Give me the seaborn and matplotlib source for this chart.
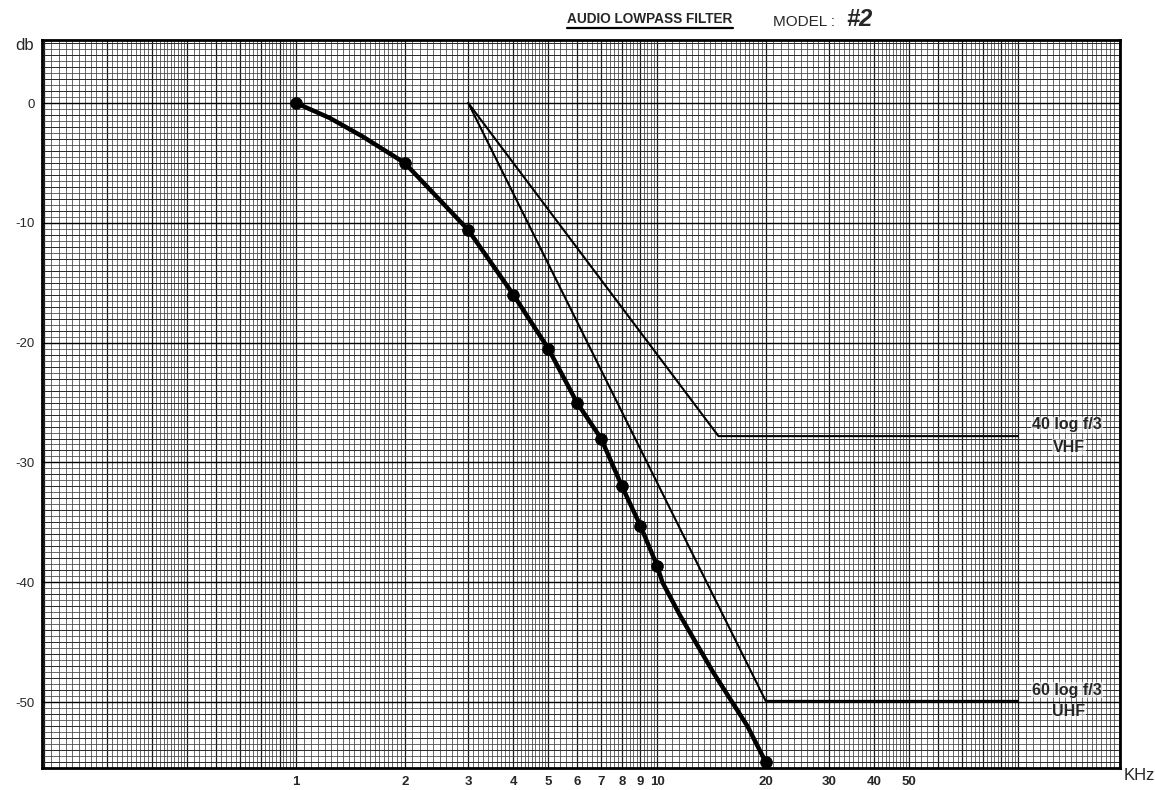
import numpy as np
import pandas as pd
import matplotlib
matplotlib.use("Agg")
import matplotlib.pyplot as plt
from matplotlib.lines import Line2D
from matplotlib.ticker import FixedLocator, FixedFormatter, NullFormatter
from matplotlib import font_manager
import seaborn as sns

# ---------------- data ----------------
point_khz = [1, 2, 3, 4, 5, 6, 7, 8, 9, 10, 20]
point_db = [0.0, -5.0, -10.6, -16.0, -20.5, -25.0, -28.0, -32.0, -35.3, -38.6, -55.0]

trace_khz = [1, 1.24, 1.53, 2, 3, 4, 5, 6, 7, 8, 9, 10, 10.35, 11.6, 14.3, 17.8, 20.0]
trace_db = [0.0, -1.25, -2.8, -5.0, -10.6, -16.0, -20.5, -25.0, -28.0, -32.0, -35.3,
            -38.6, -40.0, -42.8, -47.5, -52.0, -55.0]

vhf_khz = [3, 14.8, 100]
vhf_db = [0.0, -27.8, -27.8]

uhf_khz = [3, 20, 100]
uhf_db = [0.0, -49.9, -49.9]

x_tick_values = [1, 2, 3, 4, 5, 6, 7, 8, 9, 10, 20, 30, 40, 50]
x_tick_labels = ["1", "2", "3", "4", "5", "6", "7", "8", "9", "10", "20", "30", "40", "50"]
y_tick_values = [0, -10, -20, -30, -40, -50]
y_tick_labels = ["0", "-10", "-20", "-30", "-40", "-50"]

title_text = "AUDIO LOWPASS FILTER"
model_text = "MODEL :"
model_no = "#2"
vhf_label = ["40 log f/3", "VHF"]
uhf_label = ["60 log f/3", "UHF"]

# ---------------- style ----------------
sns.set_theme(style="white")
plt.rcParams["font.family"] = ["Liberation Sans", "DejaVu Sans"]
installed = {f.name for f in font_manager.fontManager.ttflist}
narrow = "Liberation Sans Narrow" if "Liberation Sans Narrow" in installed else "Liberation Sans"
title_size = 11.5 if narrow == "Liberation Sans Narrow" else 9.8

W, H = 1155, 790
fig = plt.figure(figsize=(W / 100, H / 100), dpi=100)
fig.patch.set_facecolor("white")
L, R, T, B = 42, 1120, 40, 768
ax = fig.add_axes([L / W, (H - B) / H, (R - L) / W, (B - T) / H])
ax.set_facecolor("white")

ax.set_xscale("log")
ax.set_xlim(0.1978, 191.7)
ax.set_ylim(-55.5, 5.26)

# ---------------- graph-paper grid ----------------
xmin, xmax = ax.get_xlim()
vlines = []
for d in [0.1, 1, 10, 100]:
    vals = [d * (1 + 0.05 * i) for i in range(20)]
    vals += [d * (2 + 0.1 * i) for i in range(30)]
    vals += [d * (5 + 0.2 * i) for i in range(25)]
    vlines += [v for v in vals if xmin < v < xmax]
int_lines = [d * k for d in [0.1, 1, 10, 100] for k in range(1, 10) if xmin < d * k < xmax]

xt = ax.get_xaxis_transform()
yt = ax.get_yaxis_transform()
ax.vlines(vlines, 0, 1, transform=xt, colors="#404040", lw=0.55, zorder=0)
ax.vlines(int_lines, 0, 1, transform=xt, colors="#1a1a1a", lw=0.9, zorder=0)

h_half = [-55.5 + 0.5 * i for i in range(122) if -55.5 + 0.5 * i < 5.26]
h_one = [float(v) for v in range(-55, 6)]
h_ten = [float(v) for v in range(-50, 6, 10)]
ax.hlines(h_half, 0, 1, transform=yt, colors="#404040", lw=0.55, zorder=0)
ax.hlines(h_one, 0, 1, transform=yt, colors="#2a2a2a", lw=0.7, zorder=0)
ax.hlines(h_ten, 0, 1, transform=yt, colors="#000000", lw=1.0, zorder=0)

# ---------------- data marks ----------------
trace_df = pd.DataFrame({"khz": trace_khz, "db": trace_db})
pts_df = pd.DataFrame({"khz": point_khz, "db": point_db})
vhf_df = pd.DataFrame({"khz": vhf_khz, "db": vhf_db})
uhf_df = pd.DataFrame({"khz": uhf_khz, "db": uhf_db})

sns.lineplot(data=vhf_df, x="khz", y="db", ax=ax, color="black", lw=1.5,
             sort=False, estimator=None, zorder=3)
sns.lineplot(data=uhf_df, x="khz", y="db", ax=ax, color="black", lw=1.5,
             sort=False, estimator=None, zorder=3)
sns.lineplot(data=trace_df, x="khz", y="db", ax=ax, color="black", lw=3.2,
             sort=False, estimator=None, zorder=4)
sns.scatterplot(data=pts_df, x="khz", y="db", ax=ax, color="black", s=70,
                edgecolor="black", zorder=5, legend=False)

# ---------------- axes / ticks ----------------
ax.set_xlabel("")
ax.set_ylabel("")
ax.xaxis.set_major_locator(FixedLocator(x_tick_values))
ax.xaxis.set_major_formatter(FixedFormatter(x_tick_labels))
ax.xaxis.set_minor_locator(FixedLocator([]))
ax.xaxis.set_minor_formatter(NullFormatter())
ax.yaxis.set_major_locator(FixedLocator(y_tick_values))
ax.yaxis.set_major_formatter(FixedFormatter(y_tick_labels))
ax.tick_params(axis="x", length=0, pad=6, labelsize=9.5)
ax.tick_params(axis="y", length=0, pad=5, labelsize=9.5)
for lab in ax.get_xticklabels():
    lab.set_fontweight("bold")
ax.grid(False)
for sp in ax.spines.values():
    sp.set_visible(True)
    sp.set_color("black")
    sp.set_linewidth(2.0)

# annotation labels (figure pixel positions)
def fig_text(x, y, s, **kw):
    return fig.text(x / W, 1 - y / H, s, **kw)

lab_kw = dict(ha="center", va="center", fontsize=11.5, fontweight="bold", zorder=6,
              bbox=dict(facecolor="white", edgecolor="none", alpha=0.55, pad=0.5))
fig_text(1067, 425, vhf_label[0], **lab_kw)
fig_text(1069, 447, vhf_label[1], **lab_kw)
fig_text(1067, 690, uhf_label[0], **lab_kw)
fig_text(1069, 712, uhf_label[1], **lab_kw)

fig_text(15, 45, "db", ha="left", va="center", fontsize=12)
fig_text(1124, 776, "KHz", ha="left", va="center", fontsize=12)

title = fig_text(650, 19, title_text, ha="center", va="center",
                 fontsize=title_size, fontweight="bold", family=[narrow, "DejaVu Sans"])
fig_text(773, 22, model_text, ha="left", va="center", fontsize=11)
fig_text(846, 20, model_no, ha="left", va="center", fontsize=17,
         fontweight="heavy", fontstyle="italic")

# underline the title
fig.canvas.draw()
bb = title.get_window_extent(renderer=fig.canvas.get_renderer())
fig.add_artist(Line2D([bb.x0 / W, bb.x1 / W], [(bb.y0 - 1.5) / H, (bb.y0 - 1.5) / H],
                      transform=fig.transFigure, color="black", lw=1.6))

fig.savefig("out.png", dpi=100, facecolor="white")
